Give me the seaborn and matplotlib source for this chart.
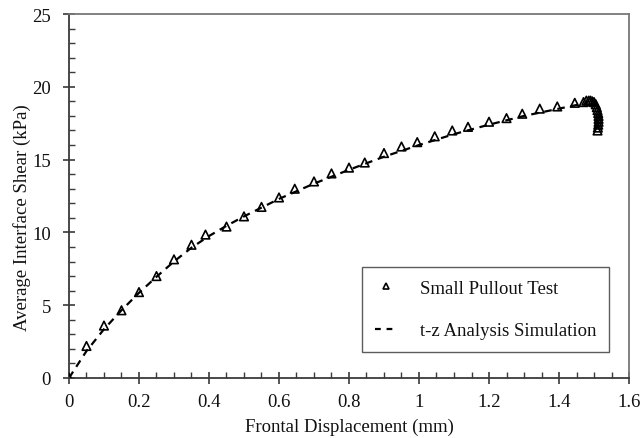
import matplotlib
matplotlib.use("Agg")
import matplotlib.pyplot as plt
from matplotlib.lines import Line2D
from matplotlib.ticker import MultipleLocator
import seaborn as sns
import pandas as pd

# Small pullout test measurements
test_disp = [0.0, 0.05, 0.10, 0.15, 0.20, 0.25, 0.30, 0.35, 0.39, 0.45,
             0.50, 0.55, 0.60, 0.645, 0.70, 0.75, 0.80, 0.845, 0.90, 0.95,
             0.995, 1.045, 1.095, 1.14, 1.20, 1.25, 1.295, 1.345, 1.395, 1.445,
             1.47, 1.478, 1.485, 1.49, 1.495, 1.50, 1.505, 1.508, 1.51, 1.512,
             1.513, 1.513, 1.513, 1.512, 1.511, 1.51]
test_shear = [0.0, 2.2, 3.6, 4.65, 5.9, 7.0, 8.15, 9.15, 9.85, 10.4,
              11.1, 11.75, 12.4, 13.0, 13.5, 14.05, 14.45, 14.8, 15.45, 15.9,
              16.2, 16.6, 17.0, 17.25, 17.6, 17.85, 18.15, 18.5, 18.65, 18.9,
              18.95, 19.05, 19.05, 19.05, 19.0, 18.95, 18.8, 18.6, 18.4, 18.2,
              18.0, 17.8, 17.6, 17.4, 17.2, 17.0]

# t-z analysis simulation
sim_disp = [0.0, 0.05, 0.10, 0.15, 0.20, 0.25, 0.30, 0.35, 0.40, 0.45,
            0.50, 0.60, 0.70, 0.80, 0.90, 1.00, 1.10, 1.20, 1.30, 1.40, 1.48]
sim_shear = [0.0, 1.85, 3.35, 4.65, 5.85, 6.95, 8.0, 8.95, 9.75, 10.45,
             11.1, 12.3, 13.35, 14.3, 15.2, 16.0, 16.75, 17.4, 18.0, 18.5, 18.9]

x_ticks = [0, 0.2, 0.4, 0.6, 0.8, 1, 1.2, 1.4, 1.6]
x_tick_labels = ["0", "0.2", "0.4", "0.6", "0.8", "1", "1.2", "1.4", "1.6"]
y_ticks = [0, 5, 10, 15, 20, 25]

test_df = pd.DataFrame({"disp": test_disp, "shear": test_shear})
sim_df = pd.DataFrame({"disp": sim_disp, "shear": sim_shear})

sns.set_theme(style="white")
plt.rcParams["font.family"] = ["Liberation Serif", "DejaVu Serif"]

fig = plt.figure(figsize=(6.41, 4.39), dpi=100)
ax = fig.add_axes([0.1076, 0.1367, 0.8737, 0.8291])

spine_col = "#3a3a3a"
text_col = "#111111"

sns.scatterplot(data=test_df, x="disp", y="shear", ax=ax, marker="^",
                s=38, facecolors="none", edgecolor="black", linewidth=1.2,
                zorder=3)
sns.lineplot(data=sim_df, x="disp", y="shear", ax=ax, color="black",
             linewidth=1.6, linestyle=(0, (3.4, 2.6)), sort=False,
             estimator=None, zorder=2)

ax.set_xlim(0, 1.6)
ax.set_ylim(0, 25)
ax.set_xticks(x_ticks)
ax.set_xticklabels(x_tick_labels)
ax.set_yticks(y_ticks)
ax.xaxis.set_minor_locator(MultipleLocator(0.05))
ax.yaxis.set_minor_locator(MultipleLocator(1))

ax.tick_params(axis="both", which="major", direction="inout", length=8,
               width=1.2, color=spine_col, labelsize=13.5,
               labelcolor=text_col)
ax.tick_params(axis="x", which="major", pad=7)
ax.tick_params(axis="y", which="major", pad=9)
ax.tick_params(axis="both", which="minor", direction="in", length=4,
               width=1.0, color=spine_col)
ax.tick_params(axis="x", which="both", bottom=True, top=False)
ax.tick_params(axis="y", which="both", left=True, right=False)

for side, sp in ax.spines.items():
    sp.set_visible(True)
    sp.set_linewidth(1.3)
    sp.set_color(spine_col if side in ("left", "bottom") else "#777777")

ax.set_xlabel("Frontal Displacement (mm)", fontsize=13.5, color=text_col,
              labelpad=5)
ax.set_ylabel("Average Interface Shear (kPa)", fontsize=13.5, color=text_col)
ax.yaxis.set_label_coords(-0.067, 0.444)

# Legend handles drawn to the same style as the plotted series
handles = [
    Line2D([], [], linestyle="none", marker="^", markersize=4.5,
           markerfacecolor="none", markeredgecolor="black",
           markeredgewidth=1.2),
    Line2D([], [], color="black", linewidth=1.6, linestyle=(0, (2.6, 2.6))),
]
labels = ["Small Pullout Test", "t-z Analysis Simulation"]
leg = ax.legend(handles, labels, loc="upper right",
                bbox_to_anchor=(0.965, 0.306), bbox_transform=ax.transAxes,
                borderaxespad=0, frameon=True, fancybox=False, fontsize=13.5,
                labelspacing=1.35, handlelength=1.2, handletextpad=1.2,
                borderpad=0.7)
leg.get_frame().set_edgecolor("#333333")
leg.get_frame().set_linewidth(1.0)
for t in leg.get_texts():
    t.set_color(text_col)

fig.savefig("out.png", dpi=100)
